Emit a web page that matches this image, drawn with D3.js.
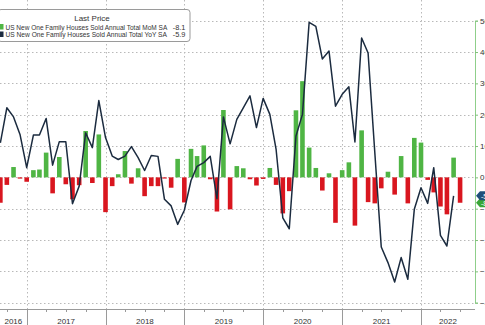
<!DOCTYPE html>
<html><head><meta charset="utf-8">
<script src="https://cdn.jsdelivr.net/npm/d3@7"></script>
<style>html,body{margin:0;padding:0;background:#fff;overflow:hidden}svg{display:block;font-family:"Liberation Sans",Arial,sans-serif}</style>
</head><body><svg id="c" width="485" height="325"></svg>
<script>
// Months of the MoM bars (Aug 2016 .. Jun 2022)
const barMonths = [
 "2016-08","2016-09","2016-10","2016-11","2016-12",
 "2017-01","2017-02","2017-03","2017-04","2017-05","2017-06","2017-07","2017-08","2017-09","2017-10","2017-11","2017-12",
 "2018-01","2018-02","2018-03","2018-04","2018-05","2018-06","2018-07","2018-08","2018-09","2018-10","2018-11","2018-12",
 "2019-01","2019-02","2019-03","2019-04","2019-05","2019-06","2019-07","2019-08","2019-09","2019-10","2019-11","2019-12",
 "2020-01","2020-02","2020-03","2020-04","2020-05","2020-06","2020-07","2020-08","2020-09","2020-10","2020-11","2020-12",
 "2021-01","2021-02","2021-03","2021-04","2021-05","2021-06","2021-07","2021-08","2021-09","2021-10","2021-11","2021-12",
 "2022-01","2022-02","2022-03","2022-04","2022-05","2022-06"];
// US New One Family Houses Sold Annual Total MoM SA (%)
const momValues = [
 -8.1,-2.4,3.3,-0.4,-1.4,
 2.3,2.5,7.9,-5.1,6.5,-2.2,-7.0,-2.5,14.8,-1.8,13.7,-11.1,
 -2.8,1.0,8.4,-2.0,2.9,-6.0,-2.8,-2.8,-0.3,-3.3,5.9,-8.0,
 9.1,6.8,10.2,-0.6,-10.9,21.5,-10.2,3.6,2.9,-0.6,-2.6,-0.5,
 3.0,-2.4,-11.5,-4.4,21.4,30.7,9.5,3.0,-4.2,1.3,-14.5,2.3,
 4.8,-15.4,15.0,-7.9,-8.3,-3.5,1.8,-5.5,6.8,-8.3,12.6,11.1,
 -0.8,-4.8,-9.3,-11.8,6.3,-8.1];
// US New One Family Houses Sold Annual Total YoY SA (%), Aug 2016 .. May 2022
const yoyValues = [
 11.0,22.2,19.3,13.7,3.1,
 13.5,13.5,18.8,3.9,11.4,11.4,-8.4,-2.8,14.2,9.5,24.5,12.7,
 6.8,5.7,6.8,9.8,6.3,2.2,7.0,6.7,-7.0,-9.1,-15.0,-10.5,
 -1.0,3.5,4.7,6.7,-6.8,19.3,10.7,18.5,22.2,26.0,15.9,25.2,
 20.1,8.9,-12.9,-16.4,13.2,20.1,49.5,48.2,37.8,40.3,22.7,26.5,
 28.9,11.3,44.5,39.7,8.0,-22.2,-27.2,-33.4,-25.6,-32.5,-10.2,-3.3,
 -8.3,3.1,-18.5,-21.9,-5.9];
const yTicks = [50,40,30,20,10,0,-10,-20,-30,-40];
const yearLabels = ["2016","2017","2018","2019","2020","2021","2022"];
const legendTitle = "Last Price";
const seriesNames = ["US New One Family Houses Sold Annual Total MoM SA","US New One Family Houses Sold Annual Total YoY SA"];
const lastValues = ["-8.1","-5.9"];

const GREEN="#4fb544", RED="#d9161f", NAVY="#1b2b3f", GRID="#b9b9b9";
const svg = d3.select("#c");
const plotL=0, plotR=475, plotB=309;
const parse = d3.timeParse("%Y-%m");
const monthEnd = m => d3.timeMonth.offset(parse(m),1);

const x = d3.scaleTime().domain([new Date(2017,0,1), new Date(2022,0,1)]).range([26.7,421]);
const y = d3.scaleLinear().domain([-40,50]).range([302.7,20.7]);

svg.append("defs").append("clipPath").attr("id","clip")
  .append("rect").attr("x",plotL).attr("y",0).attr("width",plotR-plotL).attr("height",plotB);

// gridlines
const g = svg.append("g");
g.selectAll("line.h").data(yTicks).join("line")
  .attr("x1",plotL).attr("x2",plotR).attr("y1",d=>Math.round(y(d))+0.5).attr("y2",d=>Math.round(y(d))+0.5)
  .attr("stroke",GRID).attr("stroke-dasharray","1.5,2.5");
const years = d3.range(2017,2023).map(yy=>new Date(yy,0,1));
g.selectAll("line.v").data(years).join("line")
  .attr("x1",d=>Math.round(x(d))+0.5).attr("x2",d=>Math.round(x(d))+0.5).attr("y1",0).attr("y2",plotB)
  .attr("stroke",GRID).attr("stroke-dasharray","1.5,2.5");

// bars
const bw = 4.6;
const barData = barMonths.map((m,i)=>({d:monthEnd(m), v:momValues[i]}));
svg.append("g").attr("clip-path","url(#clip)").selectAll("rect").data(barData).join("rect")
  .attr("x",d=>x(d.d)-bw/2).attr("width",bw)
  .attr("y",d=>y(Math.max(0,d.v))).attr("height",d=>Math.max(1.2,Math.abs(y(d.v)-y(0))))
  .attr("fill",d=>d.v>=0?GREEN:RED);

// line
const lineData = yoyValues.map((v,i)=>({d:monthEnd(barMonths[i]), v}));
svg.append("path").attr("clip-path","url(#clip)").datum(lineData)
  .attr("d", d3.line().x(d=>x(d.d)).y(d=>y(d.v)))
  .attr("fill","none").attr("stroke",NAVY).attr("stroke-width",1.5).attr("stroke-linejoin","round");

// right axis
const ra = svg.append("g").attr("transform",`translate(${plotR},0)`)
  .call(d3.axisRight(y).tickValues(yTicks).tickSize(3).tickPadding(2).tickFormat(d3.format("d")));
ra.select(".domain").attr("stroke","#8fcf8a");
ra.selectAll(".tick line").attr("stroke","#7fbf7a");
ra.selectAll("text").attr("fill","#333").attr("font-size",8);

// bottom axis
const ba = svg.append("g").attr("transform",`translate(0,${plotB})`);
ba.append("line").attr("x1",plotL).attr("x2",plotR).attr("y1",0.5).attr("y2",0.5).attr("stroke","#9a9a9a");
const quarters = d3.timeMonth.every(3).range(new Date(2016,9,1), new Date(2022,9,1));
ba.selectAll("line.q").data(quarters).join("line")
  .attr("x1",d=>Math.round(x(d))+0.5).attr("x2",d=>Math.round(x(d))+0.5).attr("y1",0).attr("y2",3)
  .attr("stroke","#9a9a9a");
ba.selectAll("line.y").data(years).join("line")
  .attr("x1",d=>Math.round(x(d))+0.5).attr("x2",d=>Math.round(x(d))+0.5).attr("y1",0).attr("y2",16)
  .attr("stroke","#9a9a9a");
const yearCenters = yearLabels.map((t,i)=>{
  const a = Math.max(plotL, x(new Date(+t,0,1))), b = Math.min(plotR, x(new Date(+t+1,0,1)));
  return {t, c:(a+b)/2};
});
ba.selectAll("text").data(yearCenters).join("text")
  .attr("x",d=>d.c).attr("y",14.5).attr("text-anchor","middle")
  .attr("font-size",8).attr("fill","#333").text(d=>d.t);

// last value tags
const tags = [{v:+lastValues[0], c:"#3aa637", t:lastValues[0]},{v:+lastValues[1], c:"#1f4e79", t:lastValues[1]}];
tags.forEach(tg=>{
  const yy = y(tg.v);
  svg.append("path").attr("d",`M${plotR+1},${yy} L${plotR+5},${yy-4.5} L${plotR+16},${yy-4.5} L${plotR+16},${yy+4.5} L${plotR+5},${yy+4.5} Z`)
    .attr("fill",tg.c);
  svg.append("text").attr("x",plotR+6).attr("y",yy+3).attr("font-size",7).attr("fill","#fff").text(tg.t);
});

// legend
const lg = svg.append("g");
lg.append("rect").attr("x",-2).attr("y",9.5).attr("width",192).attr("height",32).attr("rx",3)
  .attr("fill","#fff").attr("stroke","#9a9a9a");
lg.append("text").attr("x",92).attr("y",20.5).attr("text-anchor","middle").attr("font-size",8).attr("fill","#333").text(legendTitle);
[GREEN,NAVY].forEach((c,i)=>{
  const yy = 29.5 + i*7.5;
  lg.append("rect").attr("x",0).attr("y",yy-5.5).attr("width",3.5).attr("height",5.5).attr("fill",c);
  const t = lg.append("text").attr("x",5.5).attr("y",yy).attr("font-size",8).attr("fill","#333").text(seriesNames[i]);
  const w = t.node().getComputedTextLength();
  t.attr("font-size", 8*162/w);
  lg.append("text").attr("x",185.5).attr("y",yy).attr("text-anchor","end").attr("font-size",7.4).attr("fill","#333").text(lastValues[i]);
});
</script></body></html>
